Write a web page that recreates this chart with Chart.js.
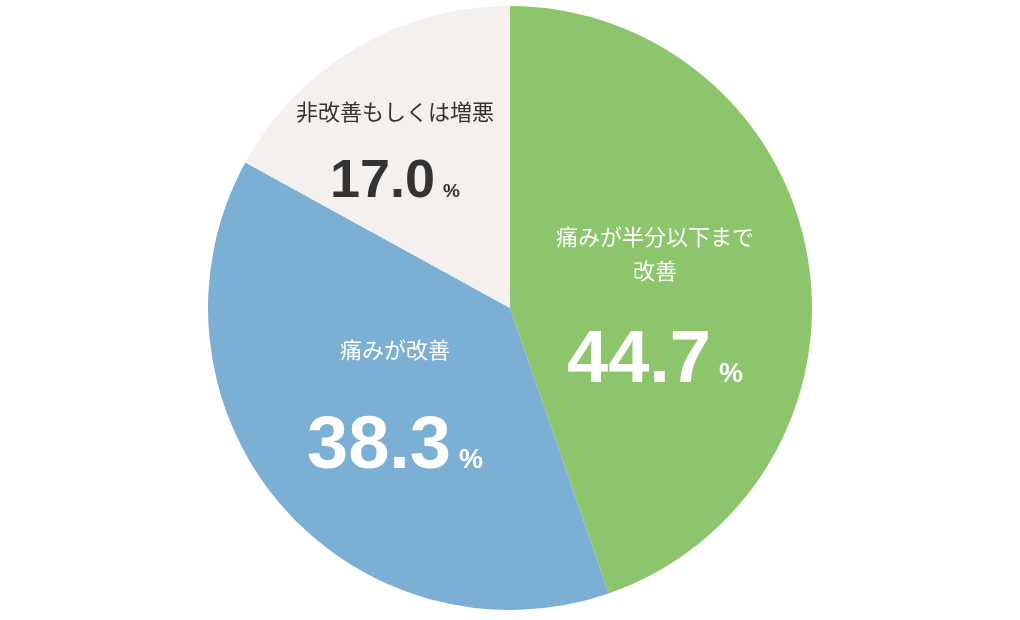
<!DOCTYPE html>
<html><head><meta charset="utf-8">
<script src="https://cdn.jsdelivr.net/npm/chart.js@4/dist/chart.umd.min.js"></script>
<style>html,body{margin:0;padding:0;background:#fff}#w{width:1020px;height:620px}</style>
</head><body><div id="w"><canvas id="c"></canvas></div>
<script>
const categories = ["痛みが半分以下まで\n改善", "痛みが改善", "非改善もしくは増悪"];
const values = [44.7, 38.3, 17.0];
const colors = ["#8dc56c", "#7bafd4", "#f3f0ee"];
const textColors = ["#ffffff", "#ffffff", "#333333"];
// label placement relative to center, in px offsets (layout only)
const place = [
  {x:145, ly:-71, vy:47, vs:74},
  {x:-115, ly:42, vy:133, vs:74},
  {x:-115, ly:-196, vy:-130, vs:54}
];
const labelPlugin = {
  id:'labels',
  afterDatasetsDraw(chart){
    const ctx = chart.ctx;
    const arc = chart.getDatasetMeta(0).data[0];
    const cx = arc.x, cy = arc.y;
    values.forEach((v,i)=>{
      const p = place[i];
      ctx.save();
      ctx.fillStyle = textColors[i];
      ctx.textAlign = 'center'; ctx.textBaseline = 'middle';
      ctx.font = '22px "Noto Sans CJK JP"';
      const lines = categories[i].split('\n');
      lines.forEach((l,k)=>ctx.fillText(l, cx+p.x, cy+p.ly+k*34));
      const vt = v.toFixed(1);
      ctx.font = '900 '+p.vs+'px "Liberation Sans"';
      const w = ctx.measureText(vt).width;
      const pctSize = Math.round(p.vs*0.36);
      ctx.font = 'bold '+pctSize+'px "Liberation Sans"';
      const pw = ctx.measureText('%').width;
      const total = w + 8 + pw;
      const x0 = cx+p.x-total/2;
      ctx.textAlign='left'; ctx.textBaseline='alphabetic';
      const base = cy+p.vy+p.vs*0.36;
      ctx.font = '900 '+p.vs+'px "Liberation Sans"';
      ctx.fillText(vt, x0, base);
      ctx.font = 'bold '+pctSize+'px "Liberation Sans"';
      ctx.fillText('%', x0+w+8, base);
      ctx.restore();
    });
  }
};
new Chart(document.getElementById('c'), {
  type:'pie',
  data:{labels:categories, datasets:[{data:values, backgroundColor:colors, borderWidth:0}]},
  options:{responsive:true, maintainAspectRatio:false, animation:false,
    layout:{padding:{top:6,bottom:10}},
    plugins:{legend:{display:false}, tooltip:{enabled:false}}},
  plugins:[labelPlugin]
});
</script></body></html>
